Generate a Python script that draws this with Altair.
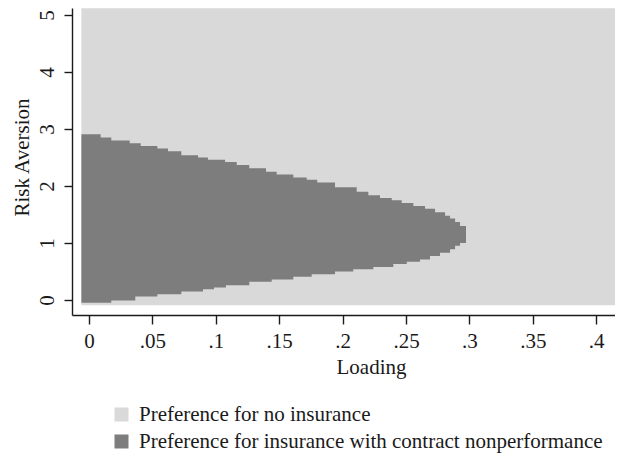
import altair as alt
import pandas as pd

CAT_NO = "Preference for no insurance"
CAT_INS = "Preference for insurance with contract nonperformance"

# light background region (whole grid)
light_x = [-0.006, 0.42]
light_y = [-0.09, 5.12]

# upper staircase of the dark region: step start (Loading) and Risk Aversion level
top_x = [-0.006, 0.0092, 0.0176, 0.0321, 0.0408, 0.0539, 0.0623, 0.0728, 0.0860, 0.0938,
         0.1073, 0.1165, 0.1264, 0.1396, 0.1480, 0.1611, 0.1717, 0.1800, 0.1940, 0.2111,
         0.2203, 0.2295, 0.2387, 0.2466, 0.2558, 0.2650, 0.2729, 0.2808, 0.2847, 0.2887,
         0.2926]
top_y = [2.91, 2.85, 2.80, 2.75, 2.70, 2.66, 2.61, 2.54, 2.50, 2.46,
         2.42, 2.37, 2.31, 2.25, 2.20, 2.15, 2.11, 2.06, 1.98, 1.90,
         1.84, 1.79, 1.75, 1.70, 1.65, 1.60, 1.54, 1.48, 1.43, 1.37,
         1.30]
# lower staircase of the dark region
bot_x = [-0.006, 0.0176, 0.0365, 0.0539, 0.0728, 0.0899, 0.0986, 0.1080, 0.1264, 0.1441,
         0.1611, 0.1756, 0.1940, 0.2084, 0.2242, 0.2400, 0.2506, 0.2610, 0.2689, 0.2768,
         0.2847, 0.2887, 0.2926]
bot_y = [-0.05, -0.01, 0.06, 0.10, 0.15, 0.19, 0.22, 0.26, 0.32, 0.36,
         0.41, 0.45, 0.50, 0.54, 0.58, 0.63, 0.67, 0.71, 0.77, 0.83,
         0.89, 0.95, 1.00]
tip_end = 0.2973

x_ticks = [0, 0.05, 0.1, 0.15, 0.2, 0.25, 0.3, 0.35, 0.4]
y_ticks = [0, 1, 2, 3, 4, 5]

FONT = "Liberation Serif"
FS = 21
INK = "#1a1a1a"
LIGHT = "#d9d9d9"
DARK = "#7d7d7d"


def level(xs, ys, b):
    val = ys[0]
    for xv, yv in zip(xs, ys):
        if xv <= b + 1e-9:
            val = yv
    return val


breaks = sorted(set(top_x) | set(bot_x))
dark_rows = [{"x": b, "lo": level(bot_x, bot_y, b), "hi": level(top_x, top_y, b),
              "cat": CAT_INS} for b in breaks]
dark_rows.append({"x": tip_end, "lo": bot_y[-1], "hi": top_y[-1], "cat": CAT_INS})
dark_df = pd.DataFrame(dark_rows)
bg_df = pd.DataFrame([{"x0": light_x[0], "x1": light_x[1], "y0": light_y[0],
                       "y1": light_y[1], "cat": CAT_NO}])

xscale = alt.Scale(domain=[-0.0134, 0.4148], nice=False, zero=False)
yscale = alt.Scale(domain=[-0.263, 5.123], nice=False, zero=False)
cscale = alt.Scale(domain=[CAT_NO, CAT_INS], range=[LIGHT, DARK])

xaxis = alt.Axis(
    values=x_ticks, grid=False, title="Loading",
    labelExpr="datum.value == 0 ? '0' : substring(format(datum.value, '.2~f'), 1)",
    labelFont=FONT, labelFontSize=FS, labelColor=INK, labelBaseline="alphabetic",
    labelPadding=23, labelFlush=False, labelOverlap=False,
    tickSize=9, tickColor=INK, tickWidth=1.4, domainColor=INK, domainWidth=1.4,
    titleFont=FONT, titleFontSize=FS, titleFontWeight="normal", titleColor=INK,
    titleX=299, titleY=58, titleBaseline="alphabetic", titleAlign="center",
)
yaxis = alt.Axis(
    values=y_ticks, grid=False, title="Risk Aversion", format="d",
    labelFont=FONT, labelFontSize=FS, labelColor=INK, labelAngle=270,
    labelAlign="center", labelBaseline="alphabetic", labelPadding=11,
    labelFlush=False, labelOverlap=False,
    tickSize=8, tickColor=INK, tickWidth=1.4, domainColor=INK, domainWidth=1.4,
    titleFont=FONT, titleFontSize=FS, titleFontWeight="normal", titleColor=INK,
    titleAngle=270, titleX=-44, titleY=149, titleAlign="center",
    titleBaseline="alphabetic",
)
legend = alt.Legend(
    orient="none", legendX=39, legendY=396, symbolType="square", symbolSize=196,
    symbolStrokeWidth=0, labelFont=FONT, labelFontSize=FS, labelColor=INK,
    labelLimit=700, labelOffset=7, rowPadding=5,
)

bg = alt.Chart(bg_df).mark_rect().encode(
    x=alt.X("x0:Q", scale=xscale, axis=xaxis),
    x2="x1",
    y=alt.Y("y0:Q", scale=yscale, axis=yaxis),
    y2="y1",
    color=alt.Color("cat:N", scale=cscale, legend=legend, title=None),
)
dark = alt.Chart(dark_df).mark_area(interpolate="step-after", orient="vertical").encode(
    x="x:Q", y="lo:Q", y2="hi",
    color=alt.Color("cat:N", scale=cscale, legend=legend, title=None),
)

chart = alt.layer(bg, dark).properties(
    width=543, height=307,
    padding={"left": 64, "top": 0, "right": 0, "bottom": 141},
    autosize=alt.AutoSizeParams(type="none"),
).configure_view(strokeWidth=0)

chart.save("out.html", embed_options={"renderer": "svg", "actions": False})
